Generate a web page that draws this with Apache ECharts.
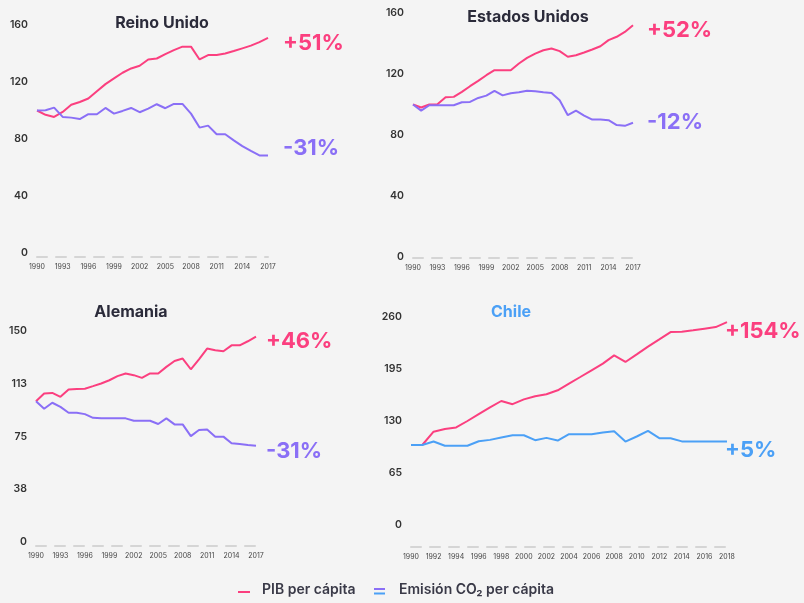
<!DOCTYPE html>
<html style="height: 100%">

<head>
    <meta charset="utf-8">
</head>

<body style="height: 100%; margin: 0; background: #f4f4f4">
    <div id="main" style="width: 804px; height: 603px"></div>

    <script type="text/javascript" src="https://cdn.jsdelivr.net/npm/echarts@6/dist/echarts.min.js"></script>

    <script type="text/javascript">
        // years on the x axis
        var years = [];
        var yearsChile = [];
        for (var y = 1990; y <= 2017; y++) years.push(String(y));
        for (var y = 1990; y <= 2018; y++) yearsChile.push(String(y));

        // index 1990 = 100
        var ukPib = [100, 97, 95.5, 99, 104, 106, 108.4, 113.5, 118.5, 122.5, 126.5, 129.5, 131.4, 135.8, 136.5, 139.6, 142.4, 144.8, 144.8, 135.8, 138.9, 138.9, 140, 141.7, 143.6, 145.5, 148, 151];
        var ukCo2 = [100, 100.2, 102, 95.5, 95, 94, 97.4, 97.4, 101.8, 97.8, 99.7, 101.8, 98.8, 101.3, 104.4, 101.6, 104.6, 104.6, 97.8, 88, 89.4, 83.3, 83.3, 79, 75, 71.6, 68.5, 68.5];
        var usPib = [100, 98, 100, 100.2, 104.8, 105, 108.3, 112, 115.5, 119.2, 122.5, 122.5, 122.5, 126.9, 130.6, 133.4, 135.6, 136.7, 135, 131.3, 132.3, 134.1, 136.1, 138.2, 142.2, 144.4, 147.6, 152];
        var usCo2 = [100, 96, 99.5, 99.5, 99.5, 99.5, 101.5, 101.7, 104.3, 105.8, 109, 106, 107.4, 108, 109, 108.7, 108, 107.5, 102.8, 93, 96, 92.7, 90.1, 90.1, 89.7, 86.5, 86, 88];
        var dePib = [100, 105.6, 106, 103.2, 108.4, 108.7, 109, 110.8, 112.7, 115, 117.9, 119.8, 118.6, 116.7, 119.8, 119.8, 124.5, 128.7, 130.4, 122.8, 129.9, 137.5, 136.3, 135.6, 139.8, 139.8, 142.7, 146];
        var deCo2 = [100, 94.7, 99, 96.1, 91.9, 91.9, 90.9, 88.3, 87.9, 87.9, 87.9, 87.9, 86.2, 86.2, 86.2, 83.9, 87.9, 83.6, 83.6, 75.3, 79.6, 80, 74.9, 74.9, 70.2, 69.7, 69, 68.5];
        var clPib = [100, 100, 116.6, 120, 122, 130, 138.5, 147, 155, 151, 157, 161, 163.4, 168.4, 176.7, 185, 193.4, 201.7, 212, 203.8, 213.3, 222.9, 232, 241.2, 241.6, 243.3, 245.4, 247.4, 253.5];
        var clCo2 = [100, 100, 104.3, 99, 99, 99, 104.7, 106.4, 109.3, 112.2, 112.2, 106, 108.9, 105.6, 113.5, 113.5, 113.5, 115.6, 117.2, 104.3, 110.6, 117.6, 108.5, 108.5, 104.5, 104.5, 104.5, 104.5, 104.5];

        var countries = ['Reino Unido', 'Estados Unidos', 'Alemania', 'Chile'];
        var pibLabels = ['+51%', '+52%', '+46%', '+154%'];
        var co2Labels = ['-31%', '-12%', '-31%', '+5%'];
        var yMax = [160, 160, 150, 260];
        var yStep = [40, 40, 37.5, 65];

        var PINK = '#fb3f7f';
        var PURPLE = '#8a6ff6';
        var BLUE = '#4ba0f6';
        var DARK = '#2b2b3a';
        var FONT = 'Inter, "Noto Sans", sans-serif';

        // panel layout: grid box, x axis offset, title centre
        var panels = [
            { left: 37, top: 25, width: 231, height: 228, offset: 4, titleX: 157, titleY: 10, pibY: 45, co2Y: 150, lblX: 283 },
            { left: 413, top: 13, width: 220, height: 244, offset: 1, titleX: 523, titleY: 4, pibY: 32, co2Y: 124, lblX: 647 },
            { left: 36, top: 331, width: 220, height: 211, offset: 4, titleX: 126, titleY: 299, pibY: 343, co2Y: 453, lblX: 266 },
            { left: 411, top: 317, width: 316, height: 208, offset: 22, titleX: 506, titleY: 299, pibY: 333, co2Y: 452, lblX: 725 }
        ];
        var pibData = [ukPib, usPib, dePib, clPib];
        var co2Data = [ukCo2, usCo2, deCo2, clCo2];

        var dom = document.getElementById('main');
        var myChart = echarts.init(dom);

        var grids = [], xAxes = [], yAxes = [], series = [], titles = [], graphics = [];

        panels.forEach(function (p, i) {
            var co2Color = i === 3 ? BLUE : PURPLE;
            grids.push({ left: p.left, top: p.top, width: p.width, height: p.height });
            xAxes.push({
                type: 'category',
                gridIndex: i,
                data: i === 3 ? yearsChile : years,
                boundaryGap: false,
                offset: p.offset,
                axisLine: { onZero: false, lineStyle: { color: '#d5d5d5', width: 2, type: [10, 9] } },
                axisTick: { show: false },
                axisLabel: {
                    interval: i === 3 ? 1 : 2,
                    fontSize: 7,
                    color: '#444',
                    margin: 6,
                    fontFamily: FONT
                }
            });
            yAxes.push({
                type: 'value',
                gridIndex: i,
                min: 0,
                max: yMax[i],
                interval: yStep[i],
                splitLine: { show: false },
                axisLine: { show: false },
                axisTick: { show: false },
                axisLabel: {
                    fontSize: 10.5,
                    fontWeight: 600,
                    color: '#333',
                    margin: 9,
                    fontFamily: FONT,
                    formatter: function (v) { return Math.round(v); }
                }
            });
            series.push({
                type: 'line',
                name: 'PIB per cápita',
                xAxisIndex: i,
                yAxisIndex: i,
                data: pibData[i],
                symbol: 'none',
                lineStyle: { color: PINK, width: 2 },
                itemStyle: { color: PINK }
            });
            series.push({
                type: 'line',
                name: 'Emisión CO₂ per cápita',
                xAxisIndex: i,
                yAxisIndex: i,
                data: co2Data[i],
                symbol: 'none',
                lineStyle: { color: co2Color, width: 2 },
                itemStyle: { color: co2Color }
            });
            titles.push({
                text: countries[i],
                left: p.titleX,
                top: p.titleY,
                textAlign: 'center',
                textStyle: {
                    fontSize: 16,
                    fontWeight: 700,
                    color: i === 3 ? BLUE : DARK,
                    fontFamily: FONT
                }
            });
            graphics.push({
                type: 'text',
                left: p.lblX,
                top: p.pibY - 13,
                style: { text: pibLabels[i], fill: PINK, font: '700 22px ' + FONT }
            });
            graphics.push({
                type: 'text',
                left: p.lblX,
                top: p.co2Y - 13,
                style: { text: co2Labels[i], fill: co2Color, font: '700 22px ' + FONT }
            });
        });

        // legend drawn by hand: the CO2 key carries two colours
        graphics.push(
            { type: 'rect', shape: { x: 238, y: 591, width: 12, height: 2 }, style: { fill: PINK } },
            { type: 'text', left: 262, top: 583, style: { text: 'PIB per cápita', fill: '#3a3a48', font: '600 14px ' + FONT } },
            { type: 'rect', shape: { x: 374, y: 588, width: 11, height: 2 }, style: { fill: PURPLE } },
            { type: 'rect', shape: { x: 374, y: 592.5, width: 11, height: 2 }, style: { fill: BLUE } },
            { type: 'text', left: 399, top: 583, style: { text: 'Emisión CO₂ per cápita', fill: '#3a3a48', font: '600 14px ' + FONT } }
        );

        var option = {
            backgroundColor: '#f4f4f4',
            animation: false,
            title: titles,
            grid: grids,
            xAxis: xAxes,
            yAxis: yAxes,
            series: series,
            graphic: graphics
        };

        if (option && typeof option === 'object') {
            myChart.setOption(option);
        }
    </script>
</body>

</html>
